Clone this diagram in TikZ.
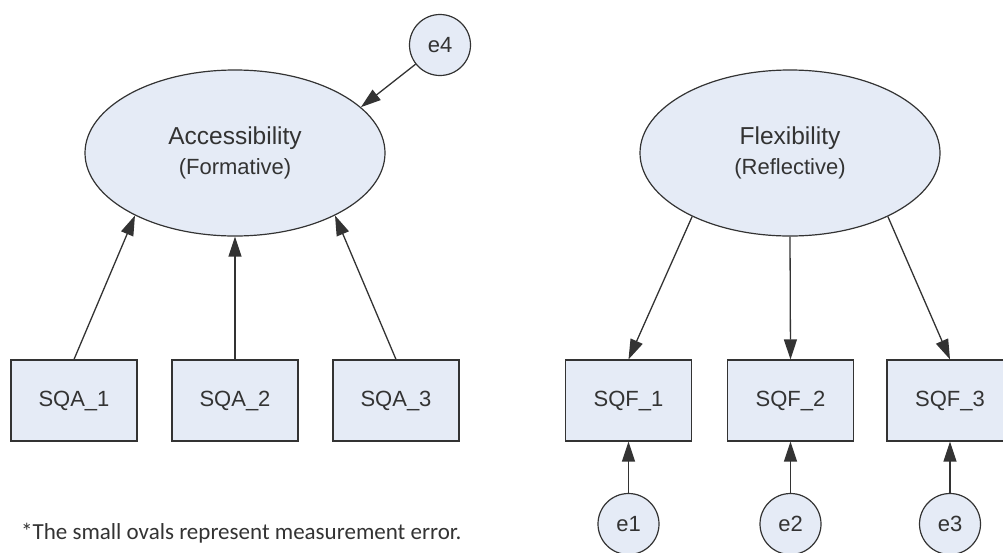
\documentclass[tikz,border=0pt]{standalone}
\usepackage{fontspec}
\setmainfont{Liberation Sans}
\newfontfamily\notefont{Carlito}
\usetikzlibrary{shapes.geometric,arrows.meta}
\definecolor{boxfill}{HTML}{E5EBF6}
\definecolor{inkgray}{HTML}{333333}
\definecolor{txtgray}{HTML}{333333}
\begin{document}
\begin{tikzpicture}[x=1pt,y=-1pt,
  every node/.style={text=txtgray},
  latent/.style={ellipse,draw=inkgray,line width=1.2pt,fill=boxfill,
    minimum width=300pt,minimum height=166pt,inner sep=0pt,align=center},
  indicator/.style={rectangle,draw=inkgray,line width=1.2pt,fill=boxfill,
    minimum width=126pt,minimum height=81pt,inner sep=0pt,
    font=\fontsize{22}{26}\selectfont},
  errterm/.style={circle,draw=inkgray,line width=1.2pt,fill=boxfill,
    minimum size=61pt,inner sep=0pt,font=\fontsize{22}{26}\selectfont},
  path/.style={draw=inkgray,line width=1.3pt,
    -{Triangle[length=20pt,width=13pt]}}]
\useasboundingbox (0,0) rectangle (1003,552);
\clip (0,0) rectangle (1003,552);

% latent constructs
\node[latent] (acc) at (235,153)
  {{\fontsize{24.5}{30}\selectfont Accessibility}\\[8pt]{\fontsize{22}{30}\selectfont (Formative)}};
\node[latent] (flex) at (790,153)
  {{\fontsize{24.5}{30}\selectfont Flexibility}\\[8pt]{\fontsize{22}{30}\selectfont (Reflective)}};

% observed indicators
\node[indicator] (sqa1) at (74,400.5) {SQA\_1};
\node[indicator] (sqa2) at (235,400.5) {SQA\_2};
\node[indicator] (sqa3) at (396,400.5) {SQA\_3};
\node[indicator] (sqf1) at (628.5,400.5) {SQF\_1};
\node[indicator] (sqf2) at (790.5,400.5) {SQF\_2};
\node[indicator] (sqf3) at (950,400.5) {SQF\_3};

% error terms
\node[errterm] (e4) at (440,45) {e4};
\node[errterm] (e1) at (628.5,524) {e1};
\node[errterm] (e2) at (790.5,524) {e2};
\node[errterm] (e3) at (950,524) {e3};

% formative paths: indicators point to the construct
\draw[path] (sqa1.north) -- (acc.212);
\draw[path] (sqa2.north) -- (acc.south);
\draw[path] (sqa3.north) -- (acc.328);
\draw[path] (e4) -- (acc.20);

% reflective paths: construct points to indicators
\draw[path] (flex.213) -- (sqf1.north);
\draw[path] (flex.south) -- (sqf2.north);
\draw[path] (flex.327) -- (sqf3.north);
\draw[path] (e1) -- (sqf1);
\draw[path] (e2) -- (sqf2);
\draw[path] (e3) -- (sqf3);

% footnote
\node[anchor=west,inner sep=0pt,font=\notefont\fontsize{23}{27}\selectfont,text=txtgray]
  (note) at (21,533) {*The small ovals represent measurement error.};
\end{tikzpicture}
\end{document}
